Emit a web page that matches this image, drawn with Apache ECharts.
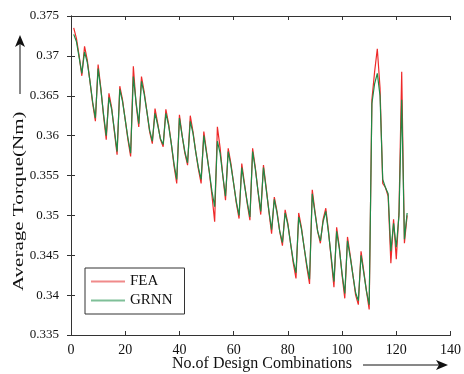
<!DOCTYPE html>
<html>
<head>
<meta charset="utf-8">
<script src="https://cdn.jsdelivr.net/npm/echarts@6/dist/echarts.min.js"></script>
<style>
  html, body { margin: 0; padding: 0; background: #fff; }
  #chart { width: 464px; height: 374px; }
</style>
</head>
<body>
<div id="chart"></div>
<script>
// design combination index 1..124
const designIdx = Array.from({ length: 124 }, (_, i) => i + 1)

const feaTorque = [
  0.3735, 0.3722, 0.3700, 0.3675, 0.3712, 0.3695, 0.3668, 0.3640, 0.3618, 0.3689,
  0.3660, 0.3625, 0.3595, 0.3653, 0.3635, 0.3605, 0.3576, 0.3662, 0.3645, 0.3620,
  0.3595, 0.3574, 0.3687, 0.3640, 0.3611, 0.3674, 0.3655, 0.3630, 0.3605, 0.3590,
  0.3634, 0.3615, 0.3595, 0.3586, 0.3633, 0.3615, 0.3590, 0.3562, 0.3540, 0.3626,
  0.3600, 0.3578, 0.3563, 0.3625, 0.3605, 0.3580, 0.3558, 0.3540, 0.3605, 0.3580,
  0.3555, 0.3525, 0.3492, 0.3611, 0.3585, 0.3550, 0.3519, 0.3584, 0.3565, 0.3540,
  0.3515, 0.3496, 0.3565, 0.3540, 0.3515, 0.3494, 0.3584, 0.3560, 0.3530, 0.3501,
  0.3563, 0.3535, 0.3505, 0.3477, 0.3523, 0.3505, 0.3480, 0.3462, 0.3507, 0.3490,
  0.3465, 0.3440, 0.3421, 0.3503, 0.3485, 0.3460, 0.3435, 0.3414, 0.3532, 0.3505,
  0.3480, 0.3465, 0.3495, 0.3509, 0.3480, 0.3445, 0.3410, 0.3485, 0.3460, 0.3425,
  0.3396, 0.3473, 0.3450, 0.3425, 0.3400, 0.3388, 0.3455, 0.3430, 0.3405, 0.3382,
  0.3645, 0.3680, 0.3709, 0.3660, 0.3540, 0.3535, 0.3524, 0.3440, 0.3495, 0.3445,
  0.3505, 0.3680, 0.3465, 0.3500
]

const grnnTorque = [
  0.3727, 0.3718, 0.3698, 0.3678, 0.3705, 0.3692, 0.3668, 0.3642, 0.3622, 0.3684,
  0.3658, 0.3627, 0.3600, 0.3648, 0.3633, 0.3607, 0.3580, 0.3658, 0.3643, 0.3620,
  0.3597, 0.3578, 0.3674, 0.3642, 0.3615, 0.3668, 0.3652, 0.3630, 0.3607, 0.3593,
  0.3628, 0.3613, 0.3596, 0.3589, 0.3628, 0.3613, 0.3590, 0.3565, 0.3545, 0.3622,
  0.3600, 0.3580, 0.3566, 0.3618, 0.3603, 0.3580, 0.3560, 0.3545, 0.3600, 0.3578,
  0.3555, 0.3530, 0.3511, 0.3593, 0.3578, 0.3550, 0.3524, 0.3580, 0.3562, 0.3540,
  0.3517, 0.3500, 0.3560, 0.3538, 0.3517, 0.3498, 0.3580, 0.3558, 0.3530, 0.3505,
  0.3560, 0.3533, 0.3506, 0.3482, 0.3520, 0.3503, 0.3480, 0.3466, 0.3503, 0.3488,
  0.3465, 0.3443, 0.3428, 0.3498, 0.3483, 0.3460, 0.3438, 0.3420, 0.3527, 0.3503,
  0.3480, 0.3468, 0.3492, 0.3505, 0.3478, 0.3448, 0.3417, 0.3480, 0.3458, 0.3427,
  0.3402, 0.3468, 0.3448, 0.3425, 0.3403, 0.3393, 0.3450, 0.3428, 0.3405, 0.3388,
  0.3640, 0.3665, 0.3678, 0.3650, 0.3545, 0.3535, 0.3527, 0.3455, 0.3490, 0.3460,
  0.3500, 0.3645, 0.3470, 0.3503
]

const seriesNames = ['FEA', 'GRNN']
const seriesColors = ['#ee2a2a', '#1f8a46']

const serif = '"Liberation Serif", "DejaVu Serif", serif'
const chart = echarts.init(document.getElementById('chart'))

const pairs = (ys) => designIdx.map((x, i) => [x, ys[i]])

const baseX = {
  type: 'value', min: 0, max: 140, interval: 20,
  axisLine: { show: true, lineStyle: { color: '#333', width: 1 } },
  axisTick: { show: true, inside: true, length: 4, lineStyle: { color: '#333' } },
  splitLine: { show: false }
}
const baseY = {
  type: 'value', min: 0.335, max: 0.375, interval: 0.005,
  axisLine: { show: true, lineStyle: { color: '#333', width: 1 } },
  axisTick: { show: true, inside: true, length: 4, lineStyle: { color: '#333' } },
  splitLine: { show: false }
}

chart.setOption({
  animation: false,
  backgroundColor: '#fff',
  grid: { left: 71, right: 6, top: 16, bottom: 39 },
  legend: {
    data: seriesNames,
    orient: 'vertical',
    left: 85, top: 268,
    width: 97,
    padding: [6, 12, 6, 6],
    itemGap: 4,
    itemWidth: 34, itemHeight: 2,
    borderColor: '#333', borderWidth: 1,
    icon: 'rect',
    textStyle: { fontFamily: serif, fontSize: 15, color: '#111' }
  },
  xAxis: [
    Object.assign({}, baseX, {
      position: 'bottom',
      axisLabel: { fontFamily: serif, fontSize: 14, color: '#111', margin: 8 }
    }),
    Object.assign({}, baseX, { position: 'top', axisLabel: { show: false } })
  ],
  yAxis: [
    Object.assign({}, baseY, {
      position: 'left',
      axisLabel: {
        fontFamily: serif, fontSize: 13, color: '#111', margin: 12,
        formatter: (v) => +v.toFixed(3) + ''
      }
    }),
    Object.assign({}, baseY, { position: 'right', axisLabel: { show: false } })
  ],
  graphic: [
    {
      type: 'text', left: 172, top: 356,
      style: { text: 'No.of Design Combinations', fontFamily: serif, fontSize: 16, fill: '#111' }
    },
    {
      type: 'line', shape: { x1: 363, y1: 365, x2: 440, y2: 365 },
      style: { stroke: '#111', lineWidth: 1 }
    },
    {
      type: 'polygon', shape: { points: [[448, 365], [436, 360], [439, 365], [436, 370]] },
      style: { fill: '#111' }
    },
    {
      type: 'text', x: 12, y: 291, rotation: Math.PI / 2, scaleX: 1.5,
      style: { text: 'Average Torque(Nm)', fontFamily: serif, fontSize: 14, fill: '#111' }
    },
    {
      type: 'line', shape: { x1: 20, y1: 94, x2: 20, y2: 42 },
      style: { stroke: '#111', lineWidth: 1 }
    },
    {
      type: 'polygon', shape: { points: [[20, 35], [15, 47], [20, 44], [25, 47]] },
      style: { fill: '#111' }
    }
  ],
  series: [
    {
      name: seriesNames[0], type: 'line', data: pairs(feaTorque),
      showSymbol: false, lineStyle: { width: 1.2, color: seriesColors[0] },
      itemStyle: { color: '#f08a8a' }, z: 2
    },
    {
      name: seriesNames[1], type: 'line', data: pairs(grnnTorque),
      showSymbol: false, lineStyle: { width: 1.2, color: seriesColors[1] },
      itemStyle: { color: '#7fbf98' }, z: 3
    }
  ]
})
</script>
</body>
</html>
